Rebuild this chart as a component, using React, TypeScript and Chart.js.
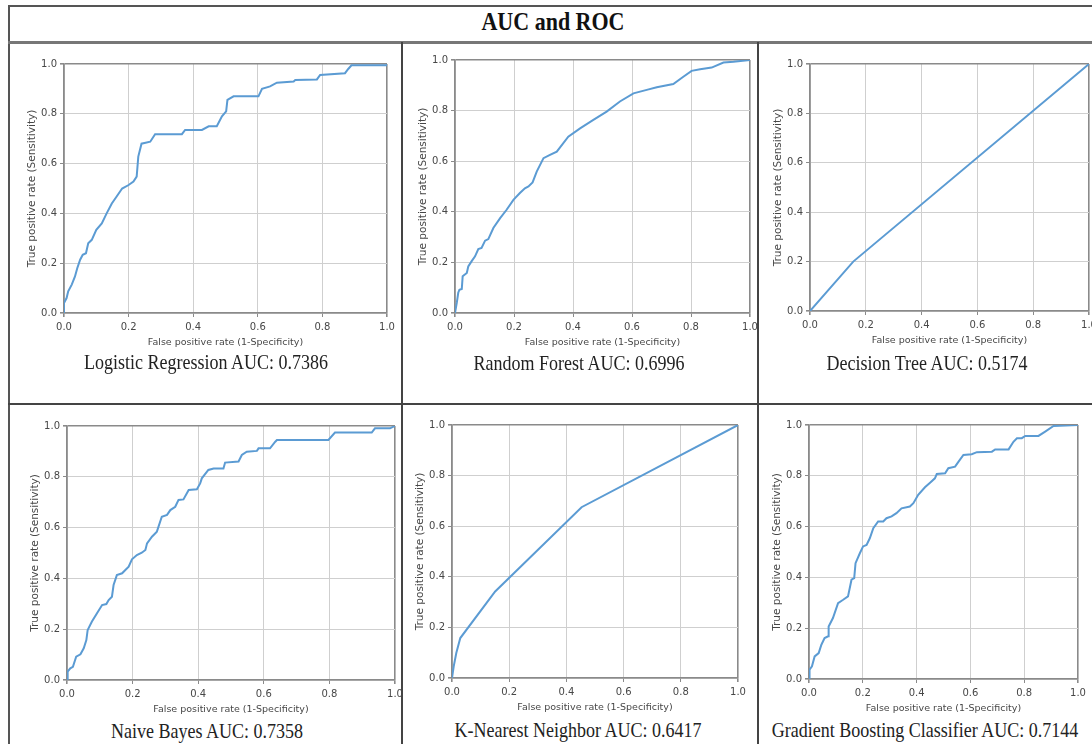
import React, { useEffect, useRef } from "react";
import { Chart, registerables } from "chart.js";

Chart.register(...registerables);

// ---------- data ----------
const AXIS_TICKS = [0, 0.2, 0.4, 0.6, 0.8, 1.0];
const X_TITLE = "False positive rate (1-Specificity)";
const Y_TITLE = "True positive rate (Sensitivity)";
const MAIN_TITLE = "AUC and ROC";

const lrFpr = [0, 0, 0.008, 0.013, 0.024, 0.034, 0.041, 0.05, 0.058, 0.068, 0.075, 0.086, 0.1, 0.117, 0.132, 0.148, 0.163, 0.18, 0.2, 0.215, 0.225, 0.23, 0.24, 0.267, 0.282, 0.365, 0.375, 0.427, 0.448, 0.473, 0.489, 0.502, 0.506, 0.525, 0.602, 0.613, 0.638, 0.659, 0.711, 0.716, 0.783, 0.793, 0.87, 0.88, 0.89, 1.0, 1.0];
const lrTpr = [0, 0.04, 0.06, 0.087, 0.114, 0.147, 0.18, 0.214, 0.234, 0.24, 0.28, 0.294, 0.334, 0.36, 0.4, 0.44, 0.468, 0.5, 0.514, 0.528, 0.548, 0.628, 0.68, 0.688, 0.718, 0.718, 0.735, 0.735, 0.75, 0.75, 0.79, 0.81, 0.856, 0.87, 0.87, 0.9, 0.91, 0.925, 0.93, 0.936, 0.938, 0.956, 0.963, 0.98, 0.995, 0.995, 1.0];

const rfFpr = [0, 0.006, 0.011, 0.015, 0.023, 0.026, 0.04, 0.045, 0.056, 0.068, 0.079, 0.09, 0.102, 0.113, 0.13, 0.153, 0.175, 0.198, 0.22, 0.237, 0.249, 0.263, 0.277, 0.3, 0.322, 0.345, 0.384, 0.424, 0.469, 0.514, 0.559, 0.605, 0.65, 0.684, 0.74, 0.774, 0.802, 0.831, 0.87, 0.91, 0.944, 1.0];
const rfTpr = [0, 0.04, 0.08, 0.092, 0.095, 0.145, 0.158, 0.184, 0.204, 0.224, 0.253, 0.257, 0.286, 0.292, 0.336, 0.375, 0.408, 0.447, 0.474, 0.493, 0.5, 0.516, 0.559, 0.612, 0.625, 0.638, 0.697, 0.73, 0.763, 0.796, 0.836, 0.868, 0.882, 0.892, 0.905, 0.934, 0.957, 0.963, 0.97, 0.99, 0.993, 1.0];

const dtFpr = [0, 0.155, 1.0];
const dtTpr = [0, 0.2, 1.0];

const nbFpr = [0, 0.002, 0.01, 0.018, 0.028, 0.041, 0.051, 0.059, 0.063, 0.076, 0.091, 0.107, 0.12, 0.127, 0.137, 0.142, 0.152, 0.168, 0.188, 0.198, 0.213, 0.228, 0.239, 0.244, 0.259, 0.274, 0.289, 0.305, 0.315, 0.33, 0.34, 0.355, 0.371, 0.396, 0.406, 0.411, 0.431, 0.447, 0.477, 0.482, 0.523, 0.533, 0.548, 0.579, 0.584, 0.619, 0.635, 0.64, 0.797, 0.817, 0.929, 0.939, 0.985, 1.0];
const nbTpr = [0, 0.033, 0.046, 0.052, 0.092, 0.101, 0.125, 0.157, 0.197, 0.23, 0.262, 0.295, 0.299, 0.315, 0.328, 0.374, 0.413, 0.42, 0.446, 0.475, 0.492, 0.501, 0.512, 0.538, 0.564, 0.584, 0.643, 0.65, 0.669, 0.682, 0.709, 0.711, 0.748, 0.751, 0.774, 0.794, 0.827, 0.833, 0.833, 0.856, 0.86, 0.886, 0.899, 0.902, 0.912, 0.912, 0.938, 0.945, 0.945, 0.974, 0.974, 0.991, 0.991, 1.0];

const knnFpr = [0, 0.006, 0.015, 0.029, 0.151, 0.453, 1.0];
const knnTpr = [0, 0.046, 0.099, 0.158, 0.342, 0.675, 1.0];

const gbFpr = [0, 0.002, 0.011, 0.021, 0.036, 0.046, 0.058, 0.071, 0.073, 0.089, 0.108, 0.127, 0.145, 0.158, 0.168, 0.173, 0.189, 0.201, 0.214, 0.226, 0.239, 0.257, 0.276, 0.288, 0.307, 0.325, 0.344, 0.375, 0.388, 0.406, 0.431, 0.45, 0.468, 0.475, 0.506, 0.518, 0.543, 0.556, 0.574, 0.605, 0.624, 0.68, 0.692, 0.742, 0.76, 0.773, 0.791, 0.804, 0.853, 0.878, 0.909, 1.0];
const gbTpr = [0, 0.037, 0.05, 0.089, 0.102, 0.135, 0.161, 0.168, 0.207, 0.24, 0.299, 0.312, 0.325, 0.391, 0.397, 0.456, 0.495, 0.522, 0.528, 0.554, 0.594, 0.62, 0.62, 0.633, 0.64, 0.653, 0.672, 0.679, 0.692, 0.725, 0.755, 0.773, 0.79, 0.807, 0.81, 0.83, 0.836, 0.856, 0.882, 0.885, 0.893, 0.895, 0.904, 0.904, 0.934, 0.948, 0.948, 0.957, 0.957, 0.974, 0.996, 1.0];

const modelNames = ["Logistic Regression", "Random Forest", "Decision Tree", "Naive Bayes", "K-Nearest Neighbor", "Gradient Boosting Classifier"];
const aucValues = ["0.7386", "0.6996", "0.5174", "0.7358", "0.6417", "0.7144"];
const fprSeries = [lrFpr, rfFpr, dtFpr, nbFpr, knnFpr, gbFpr];
const tprSeries = [lrTpr, rfTpr, dtTpr, nbTpr, knnTpr, gbTpr];

// ---------- layout / style ----------
const LINE_COLOR = "#5b9bd3";
const GRID_COLOR = "#cfcfcf";
const FRAME_COLOR = "#8a8a8a";
const TEXT_COLOR = "#474747";
const SANS = "'DejaVu Sans', sans-serif";
const SERIF = "'Liberation Serif', 'Times New Roman', serif";

// plot areas [left, top, right, bottom]
const PLOTS = [
  [64, 64, 387, 313],
  [455, 60, 750, 313],
  [810, 64, 1089, 311],
  [67, 426, 395, 680],
  [452, 425, 738, 678],
  [809, 425, 1078, 679],
];
// cells [left, top, right, bottom]
const CELLS = [
  [10, 44, 401, 403],
  [403, 44, 757, 403],
  [759, 44, 1092, 403],
  [10, 405, 401, 744],
  [403, 405, 757, 744],
  [759, 405, 1092, 744],
];
const CAPTIONS = [
  [206, 362],
  [579, 363],
  [927, 363],
  [207, 731],
  [578, 730],
  [925, 730],
];

const YW = 41;
const PT = 10;
const PR = 20;
const XH = 38;

function isEdge(ctx: any) {
  const v = ctx && ctx.tick ? ctx.tick.value : null;
  return v === 0 || v === 1;
}

function RocPanel({ idx }: { idx: number }) {
  const ref = useRef<HTMLCanvasElement | null>(null);
  const [pl, pt, pr, pb] = PLOTS[idx];
  const [cl, ct, cr, cb] = CELLS[idx];
  const w = pr - pl + YW + PR;
  const h = PT + (pb - pt) + XH;
  const left = pl - YW - cl;
  const top = pt - PT - ct;

  useEffect(() => {
    if (!ref.current) return;
    const fpr = fprSeries[idx];
    const tpr = tprSeries[idx];
    const setTicks = (s: any) => {
      s.ticks = AXIS_TICKS.map((v) => ({ value: v }));
    };
    const gridOpts = {
      color: (c: any) => (isEdge(c) ? FRAME_COLOR : GRID_COLOR),
      lineWidth: (c: any) => (isEdge(c) ? 1.6 : 1),
      tickColor: FRAME_COLOR,
      tickLength: 4,
      drawTicks: true,
    };
    const tickOpts = {
      font: { family: SANS, size: 10 },
      color: TEXT_COLOR,
      padding: 3,
      autoSkip: false,
      maxRotation: 0,
      callback: (v: any) => Number(v).toFixed(1),
    };
    const chart = new Chart(ref.current, {
      type: "scatter",
      data: {
        datasets: [
          {
            data: fpr.map((x, i) => ({ x, y: tpr[i] })),
            showLine: true,
            borderColor: LINE_COLOR,
            backgroundColor: LINE_COLOR,
            borderWidth: 2,
            pointRadius: 0,
            pointHoverRadius: 0,
            tension: 0,
            fill: false,
          },
        ],
      },
      options: {
        animation: false,
        responsive: false,
        maintainAspectRatio: false,
        events: [],
        layout: { padding: { left: 0, top: PT, right: PR, bottom: 0 } },
        plugins: { legend: { display: false }, tooltip: { enabled: false } },
        scales: {
          x: {
            type: "linear",
            min: 0,
            max: 1,
            afterBuildTicks: setTicks,
            afterFit: (s: any) => {
              s.height = XH;
            },
            ticks: { ...tickOpts, padding: 4 },
            grid: gridOpts,
            border: { display: true, color: FRAME_COLOR, width: 1.6 },
            title: {
              display: true,
              text: X_TITLE,
              color: TEXT_COLOR,
              font: { family: SANS, size: 9.5 },
              padding: { top: 0, bottom: 3 },
            },
          },
          y: {
            type: "linear",
            min: 0,
            max: 1,
            afterBuildTicks: setTicks,
            afterFit: (s: any) => {
              s.width = YW;
            },
            ticks: tickOpts,
            grid: gridOpts,
            border: { display: true, color: FRAME_COLOR, width: 1.6 },
            title: {
              display: true,
              text: Y_TITLE,
              color: TEXT_COLOR,
              font: { family: SANS, size: 10.5 },
              padding: { top: 3, bottom: 0 },
            },
          },
        },
      } as any,
    });
    return () => chart.destroy();
  }, [idx]);

  return (
    <div
      style={{
        position: "absolute",
        left: cl,
        top: ct,
        width: cr - cl,
        height: cb - ct,
        overflow: "hidden",
      }}
    >
      <canvas
        ref={ref}
        width={w}
        height={h}
        style={{ position: "absolute", left, top, width: w, height: h }}
      />
    </div>
  );
}

function Line({ l, t, w, h, c }: { l: number; t: number; w: number; h: number; c: string }) {
  return <div style={{ position: "absolute", left: l, top: t, width: w, height: h, background: c, zIndex: 5 }} />;
}

export default function App() {
  return (
    <div
      style={{
        position: "absolute",
        left: 0,
        top: 0,
        width: 1092,
        height: 744,
        overflow: "hidden",
        background: "#ffffff",
      }}
    >
      {modelNames.map((_, i) => (
        <RocPanel key={i} idx={i} />
      ))}
      {modelNames.map((name, i) => (
        <div
          key={"cap" + i}
          style={{
            position: "absolute",
            left: CAPTIONS[i][0],
            top: CAPTIONS[i][1],
            transform: "translate(-50%, -50%) scaleY(1.22)",
            whiteSpace: "nowrap",
            fontFamily: SERIF,
            fontSize: 18,
            color: "#222",
            lineHeight: "20px",
          }}
        >
          {name} AUC: {aucValues[i]}
        </div>
      ))}
      <div
        style={{
          position: "absolute",
          left: 553,
          top: 22,
          transform: "translate(-50%, -50%) scaleY(1.18)",
          whiteSpace: "nowrap",
          fontFamily: SERIF,
          fontWeight: "bold",
          fontSize: 22,
          color: "#111",
          lineHeight: "24px",
        }}
      >
        {MAIN_TITLE}
      </div>
      <Line l={8} t={5} w={1084} h={2} c="#555" />
      <Line l={8} t={5} w={2} h={739} c="#555" />
      <Line l={8} t={41} w={1084} h={3} c="#777" />
      <Line l={401} t={42} w={2} h={702} c="#444" />
      <Line l={757} t={42} w={2} h={702} c="#444" />
      <Line l={8} t={403} w={1084} h={2} c="#444" />
    </div>
  );
}
